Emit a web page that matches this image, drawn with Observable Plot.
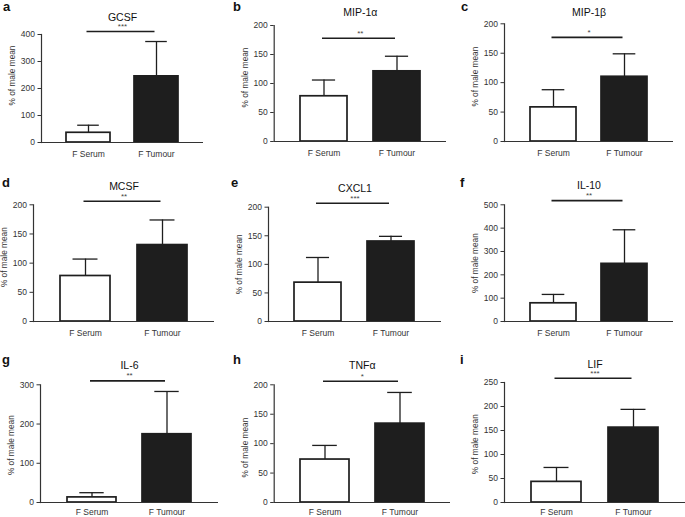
<!DOCTYPE html>
<html><head><meta charset="utf-8">
<script src="https://cdn.jsdelivr.net/npm/d3@7"></script>
<script src="https://cdn.jsdelivr.net/npm/@observablehq/plot@0.6"></script>
<style>
body{margin:0;background:#fff;}
#fig{position:relative;width:685px;height:517px;overflow:hidden;font-family:"Liberation Sans",Arial,sans-serif;}
.cell{position:absolute;}
.letter{position:absolute;font-weight:bold;font-size:13px;line-height:1;color:#111;font-family:"Liberation Sans",Arial,sans-serif;}
</style></head><body><div id="fig"></div>
<script>
// ---- data ----
const letters = ["a","b","c","d","e","f","g","h","i"];
const cytokines = ["GCSF","MIP-1\u03b1","MIP-1\u03b2","MCSF","CXCL1","IL-10","IL-6","TNF\u03b1","LIF"];
const groups = ["F Serum","F Tumour"];
const serumMean  = [36, 78, 58, 78, 68, 78, 13, 73, 43];
const serumErr   = [28, 28, 30, 29, 44, 38, 12, 24, 30];
const tumourMean = [245, 121, 110, 131, 140, 247, 174, 134, 156];
const tumourErr  = [129, 26, 39, 43, 9, 146, 109, 53, 38];
const stars = ["***","**","*","**","***","**","**","*","***"];
const sigLevel = [411, 178, 177, 206, 207, 518, 310, 206, 259];
const yMax  = [400, 200, 200, 200, 200, 500, 300, 200, 250];
const yStep = [100, 50, 50, 50, 50, 100, 100, 50, 50];
const yLabel = "% of male mean";

// ---- layout (page pixels) ----
const cols = [{x0:0,w:228},{x0:228,w:228},{x0:456,w:229}];
const rows = [{y0:0,h:170,tp:8},{y0:170,h:172,tp:8},{y0:342,h:175,tp:6}];
// left axis x, right end of x axis, top of y axis, zero line y, title dy, y-label dy
const geom = [
  [41,   203, 34,    142, -17, -13],
  [273.7,446, 25,    141, -13, -6],
  [504,  673, 23.3,  141, -11, -6],
  [33,   214, 204.3, 321, -18, -6],
  [268,  441, 206.7, 321, -19, 0],
  [504,  673, 204.3, 321, -19, 0],
  [40,   218, 384.3, 502, -19, 1.5],
  [273.7,450, 384.3, 502, -19, 4],
  [504,  685, 382,   502, -18, 1.7]
];
const letterPos = [[3,10],[233,10],[461,10],[2,186],[231,186],[460,186],[2,363],[233,363],[460,363]];

const fig = document.getElementById("fig");
const ink = "#1e1e1e";
const pad = 0.35;

cytokines.forEach((name, i) => {
  const c = cols[i % 3], r = rows[Math.floor(i / 3)];
  const [left, right, top, zero, titleDy, labelDy] = geom[i];
  const W = c.w, H = r.h;
  const mL = left - c.x0, mR = c.x0 + W - right, mT = top - r.y0, mB = r.y0 + H - zero;
  const step = (W - mL - mR) / (2 + pad);
  const bw = step * (1 - pad);
  const data = groups.map((g, j) => ({
    group: g,
    mean: j ? tumourMean[i] : serumMean[i],
    err: j ? tumourErr[i] : serumErr[i]
  }));
  const ticks = d3.range(0, yMax[i] + 1e-9, yStep[i]);
  const chart = Plot.plot({
    width: W, height: H,
    marginLeft: mL, marginRight: mR, marginTop: mT, marginBottom: mB,
    style: {background: "transparent", fontFamily: "Liberation Sans, Arial, sans-serif", overflow: "visible"},
    x: {domain: groups, padding: pad},
    y: {domain: [0, yMax[i]]},
    marks: [
      Plot.ruleX(data, {x: "group", y1: "mean", y2: d => d.mean + d.err, stroke: ink, strokeWidth: 1.3}),
      Plot.tickY(data, {x: "group", y: d => d.mean + d.err, stroke: ink, strokeWidth: 1.3, insetLeft: bw / 4, insetRight: bw / 4}),
      Plot.barY(data.filter(d => d.group === groups[0]), {x: "group", y: "mean", fill: "white", stroke: ink, strokeWidth: 1.7}),
      Plot.barY(data.filter(d => d.group === groups[1]), {x: "group", y: "mean", fill: ink, stroke: ink, strokeWidth: 1.7}),
      Plot.axisY({ticks, tickSize: 3.5, tickPadding: 3, fontSize: 8.5, color: "#333", label: null}),
      Plot.axisX({tickSize: 0, tickPadding: r.tp, fontSize: 8.5, color: "#333", label: null}),
      Plot.ruleY([0], {stroke: "#333", strokeWidth: 1.2}),
      Plot.frame({anchor: "left", stroke: "#333", strokeWidth: 1.2}),
      Plot.link([sigLevel[i]], {x1: () => groups[0], x2: () => groups[1], y1: d => d, y2: d => d, stroke: ink, strokeWidth: 1.6, dx: -2}),
      Plot.text([stars[i]], {y: () => sigLevel[i], text: d => d, dy: -5, fontSize: 8, fill: "#444"}),
      Plot.text([name], {frameAnchor: "top", lineAnchor: "middle", dy: titleDy, fontSize: 10.5, fill: "#111"}),
      Plot.text([yLabel], {frameAnchor: "left", textAnchor: "middle", lineAnchor: "middle", rotate: -90, dx: -29, dy: labelDy, fontSize: 8.3, fill: "#333"})
    ]
  });
  const cell = document.createElement("div");
  cell.className = "cell";
  cell.style.left = c.x0 + "px";
  cell.style.top = r.y0 + "px";
  cell.appendChild(chart);
  fig.appendChild(cell);
  const lt = document.createElement("span");
  lt.className = "letter";
  lt.textContent = letters[i];
  lt.style.left = letterPos[i][0] + "px";
  lt.style.top = (letterPos[i][1] - 10) + "px";
  fig.appendChild(lt);
});
</script></body></html>
